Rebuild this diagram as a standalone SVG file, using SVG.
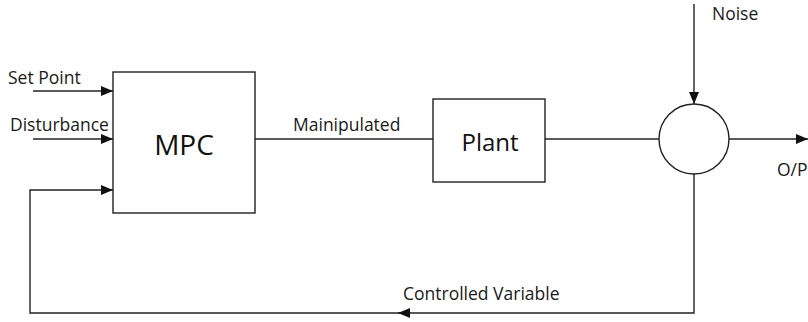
<svg xmlns="http://www.w3.org/2000/svg" width="808" height="322" viewBox="0 0 808 322">
  <style>
    .box { fill: #ffffff; stroke: #222222; stroke-width: 1.4; }
    .wire { fill: none; stroke: #222222; stroke-width: 1.4; }
    .lbl { font-family: "Open Sans", "Liberation Sans", sans-serif; font-size: 17.5px; fill: #1a1a1a; }
    .big { font-family: "Open Sans", "Liberation Sans", sans-serif; fill: #111111; }
  </style>
  <defs>
    <marker id="arrow" markerUnits="userSpaceOnUse" markerWidth="12" markerHeight="10" refX="12" refY="5" orient="auto">
      <path d="M0,0 L12,5 L0,10 Z" fill="#111111"/>
    </marker>
  </defs>

  <rect width="808" height="322" fill="#ffffff"/>

  <g id="connectors">
    <!-- inputs to the controller -->
    <line class="wire" x1="33" y1="91" x2="113" y2="91" marker-end="url(#arrow)"/>
    <line class="wire" x1="33" y1="139" x2="113" y2="139" marker-end="url(#arrow)"/>
    <!-- controller to plant -->
    <line class="wire" x1="255" y1="139" x2="433" y2="139"/>
    <!-- plant to summing junction -->
    <line class="wire" x1="545" y1="139" x2="659" y2="139"/>
    <!-- noise into junction -->
    <line class="wire" x1="694" y1="4" x2="694" y2="104" marker-end="url(#arrow)"/>
    <!-- output -->
    <line class="wire" x1="729" y1="139" x2="808" y2="139" marker-end="url(#arrow)"/>
    <!-- feedback path -->
    <polyline class="wire" points="694,174 694,313 398,313" marker-end="url(#arrow)"/>
    <polyline class="wire" points="400,313 30,313 30,190 113,190" marker-end="url(#arrow)"/>
  </g>

  <g id="mpc">
    <rect class="box" x="113" y="72" width="142" height="141"/>
    <text class="big" x="184" y="155" font-size="28" text-anchor="middle">MPC</text>
  </g>

  <g id="plant">
    <rect class="box" x="433" y="99" width="112" height="83"/>
    <text class="big" x="490" y="151" font-size="24" text-anchor="middle">Plant</text>
  </g>

  <g id="junction">
    <circle class="box" cx="694" cy="139" r="35"/>
  </g>

  <g id="labels">
    <text class="lbl" x="8" y="84">Set Point</text>
    <text class="lbl" x="10" y="131">Disturbance</text>
    <text class="lbl" x="293" y="131">Mainipulated</text>
    <text class="lbl" x="712" y="20">Noise</text>
    <text class="lbl" x="777" y="176">O/P</text>
    <text class="lbl" x="403" y="300">Controlled Variable</text>
  </g>
</svg>
